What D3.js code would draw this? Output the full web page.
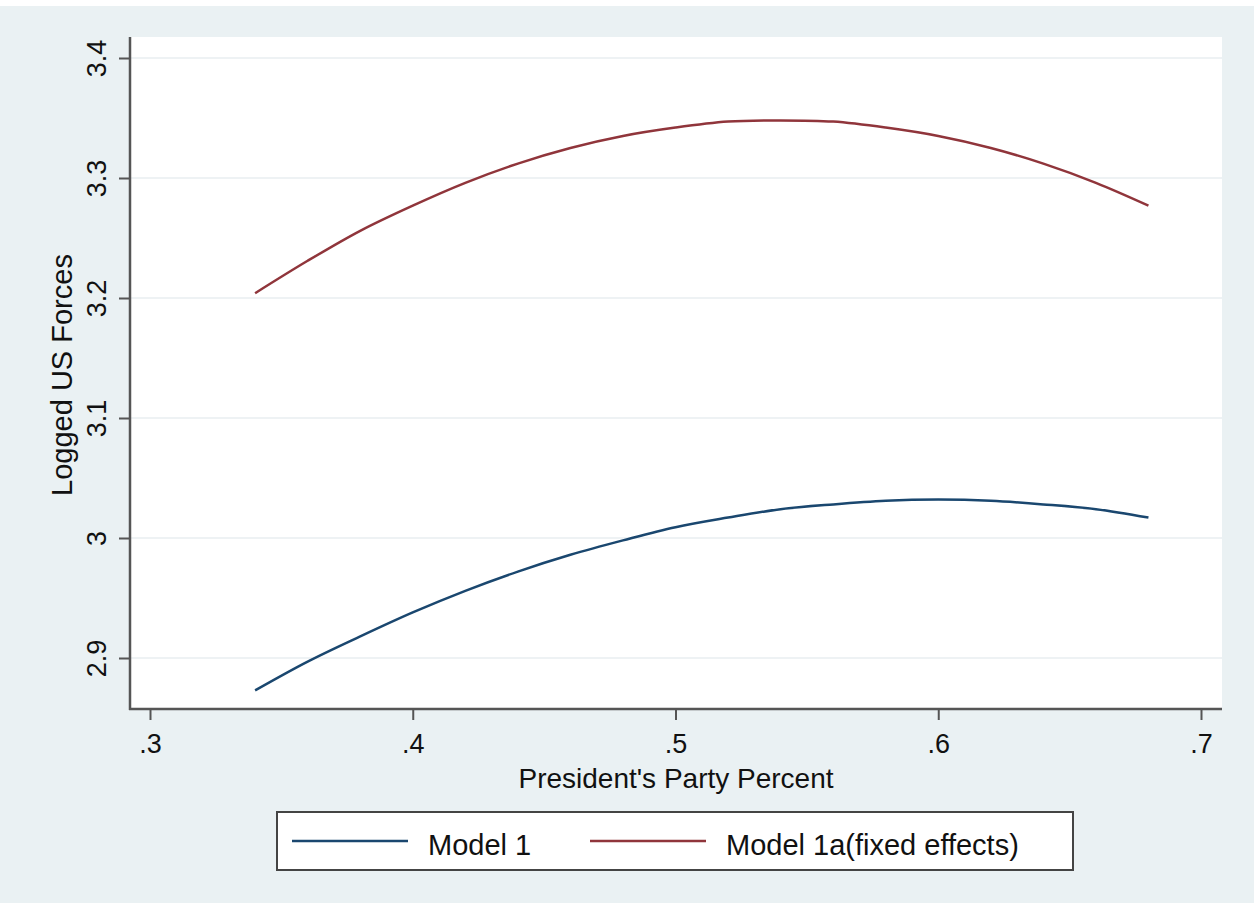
<!DOCTYPE html>
<html>
<head>
<meta charset="utf-8">
<script src="https://cdn.jsdelivr.net/npm/d3@7"></script>
<style>
  body { margin: 0; background: #fff; }
  text { font-family: "Liberation Sans", Arial, Helvetica, sans-serif; fill: #111; }
</style>
</head>
<body>
<div id="chart"></div>
<script>
// Size of picture
var width = 1255,
    height = 907;

// Data
var xValues = [0.34, 0.36, 0.38, 0.40, 0.42, 0.44, 0.46, 0.48, 0.50, 0.52, 0.54,
               0.56, 0.58, 0.60, 0.62, 0.64, 0.66, 0.68];
var model1 = [2.873, 2.897, 2.918, 2.938, 2.956, 2.972, 2.986, 2.998, 3.009, 3.017, 3.024,
              3.028, 3.031, 3.032, 3.031, 3.028, 3.024, 3.017];
var model1a = [3.204, 3.231, 3.256, 3.277, 3.296, 3.312, 3.325, 3.335, 3.342, 3.347, 3.348,
               3.347, 3.342, 3.335, 3.325, 3.312, 3.296, 3.277];
var seriesNames = ["Model 1", "Model 1a(fixed effects)"];
var seriesColors = ["#1a476f", "#90353b"];
var xTicks = [0.3, 0.4, 0.5, 0.6, 0.7];
var xTickLabels = [".3", ".4", ".5", ".6", ".7"];
var yTicks = [2.9, 3.0, 3.1, 3.2, 3.3, 3.4];
var yTickLabels = ["2.9", "3", "3.1", "3.2", "3.3", "3.4"];

// Place of graph
var svg = d3.select("#chart")
            .append("svg")
              .attr("width", width)
              .attr("height", height);

// Background of the graph region
svg.append("rect")
   .attr("x", 0).attr("y", 6)
   .attr("width", 1254).attr("height", 897)
   .attr("fill", "#eaf1f3");

// Plot region
var plotLeft = 130, plotRight = 1222, plotTop = 37, plotBottom = 709;

svg.append("rect")
   .attr("x", plotLeft).attr("y", plotTop)
   .attr("width", plotRight - plotLeft).attr("height", plotBottom - plotTop)
   .attr("fill", "#fff");

// Scales of axis
var scaleX = d3.scaleLinear()
               .domain([0.3, 0.7])
               .range([150, 1201]);

var scaleY = d3.scaleLinear()
               .domain([2.9, 3.4])
               .range([658, 58]);

// Gridlines
svg.selectAll(".grid")
   .data(yTicks)
   .enter()
   .append("line")
     .attr("x1", plotLeft).attr("x2", plotRight)
     .attr("y1", function(d) { return scaleY(d); })
     .attr("y2", function(d) { return scaleY(d); })
     .attr("stroke", "#eef2f4")
     .attr("stroke-width", 2);

// Y axis
var yAxis = svg.append("g")
               .attr("transform", "translate(" + plotLeft + ",0)")
               .call(d3.axisLeft(scaleY)
                       .tickValues(yTicks)
                       .tickSize(11)
                       .tickFormat(function(d, i) { return yTickLabels[i]; }));
yAxis.select(".domain").attr("d", "M0," + plotTop + "V" + (plotBottom + 1))
     .attr("stroke", "#555").attr("stroke-width", 2.5);
yAxis.selectAll(".tick line").attr("stroke", "#555").attr("stroke-width", 2);
yAxis.selectAll(".tick text")
     .attr("x", null).attr("dy", null)
     .attr("transform", "translate(-24,0) rotate(-90)")
     .attr("text-anchor", "middle")
     .style("font-size", "27px")
     .attr("fill", "#111");

// X axis
var xAxis = svg.append("g")
               .attr("transform", "translate(0," + plotBottom + ")")
               .call(d3.axisBottom(scaleX)
                       .tickValues(xTicks)
                       .tickSize(11)
                       .tickFormat(function(d, i) { return xTickLabels[i]; }));
xAxis.select(".domain").attr("d", "M" + (plotLeft - 1) + ",0H" + plotRight)
     .attr("stroke", "#555").attr("stroke-width", 2.5);
xAxis.selectAll(".tick line").attr("stroke", "#555").attr("stroke-width", 2);
xAxis.selectAll(".tick text")
     .attr("y", 44).attr("dy", null)
     .style("font-size", "27px")
     .attr("fill", "#111");

// Axis titles
svg.append("text")
   .attr("x", 676).attr("y", 788)
   .attr("text-anchor", "middle")
   .style("font-size", "28px")
   .text("President's Party Percent");

svg.append("text")
   .attr("transform", "translate(72,375) rotate(-90)")
   .attr("text-anchor", "middle")
   .style("font-size", "29px")
   .text("Logged US Forces");

// Lines
var line = d3.line()
             .x(function(d) { return scaleX(d[0]); })
             .y(function(d) { return scaleY(d[1]); })
             .curve(d3.curveCatmullRom);

[model1, model1a].forEach(function(values, k) {
  svg.append("path")
     .datum(values.map(function(v, i) { return [xValues[i], v]; }))
     .attr("d", line)
     .attr("fill", "none")
     .attr("stroke", seriesColors[k])
     .attr("stroke-width", 2.5);
});

// Legend
svg.append("rect")
   .attr("x", 277).attr("y", 812)
   .attr("width", 796).attr("height", 58)
   .attr("fill", "#fff")
   .attr("stroke", "#444")
   .attr("stroke-width", 2);

var legendX = [292, 590];
seriesNames.forEach(function(name, k) {
  svg.append("line")
     .attr("x1", legendX[k]).attr("x2", legendX[k] + 116)
     .attr("y1", 841).attr("y2", 841)
     .attr("stroke", seriesColors[k])
     .attr("stroke-width", 2.5);
  svg.append("text")
     .attr("x", legendX[k] + 136).attr("y", 855)
     .style("font-size", "29px")
     .text(name);
});
</script>
</body>
</html>
